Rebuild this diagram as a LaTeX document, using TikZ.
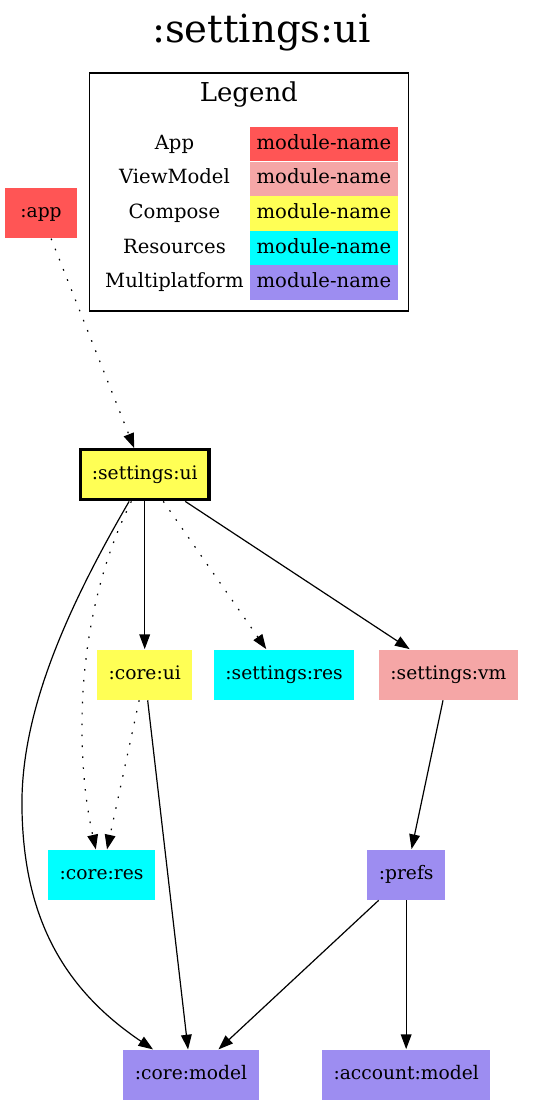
\documentclass[tikz,border=0pt]{standalone}
\usepackage{fontspec}
\setmainfont{DejaVu Serif}
\usetikzlibrary{shapes,arrows.meta}

\definecolor{appcol}{HTML}{FF5555}
\definecolor{vmcol}{HTML}{F5A6A6}
\definecolor{composecol}{HTML}{FFFF55}
\definecolor{rescol}{HTML}{00FFFF}
\definecolor{mppcol}{HTML}{9D8DF1}

\begin{document}
\begin{tikzpicture}[x=0.75pt, y=-0.75pt, line width=0.9pt]
  \tikzstyle{module} = [rectangle, minimum width=54pt, minimum height=37.5pt,
    inner xsep=8.6pt, text height=10pt, text depth=3pt, font=\fontsize{14}{16}\selectfont]
  \tikzstyle{swatch} = [rectangle, minimum width=110.6pt, minimum height=25.9pt,
    inner sep=0pt, text height=10.5pt, text depth=3pt, font=\fontsize{14.7}{16}\selectfont]
  \tikzstyle{kind} = [font=\fontsize{14.7}{16}\selectfont, inner sep=0pt,
    text height=10.5pt, text depth=3pt]
  \tikzstyle{line} = [draw, -{Triangle[length=11pt, width=8pt]}]
  \tikzstyle{dotline} = [line, dash pattern=on 1.2pt off 7pt]

  \useasboundingbox (0,0) rectangle (551,1106);

  % Title and legend
  \node [anchor=base, font=\fontsize{29}{32}\selectfont] (title) at (261.5,43) {:settings:ui};
  \node [draw, rectangle, minimum width=239.5pt, minimum height=178.5pt, inner sep=0pt]
    (legend) at (248.85,192) {};
  \node [anchor=base, font=\fontsize{19.5}{22}\selectfont] (legendtitle) at (248.85,101.5) {Legend};

  \node [swatch, fill=appcol] (swapp) at (323.9,144.2) {module-name};
  \node [swatch, fill=vmcol, below of=swapp, node distance=25.95pt] (swvm) {module-name};
  \node [swatch, fill=composecol, below of=swvm, node distance=25.95pt] (swcompose) {module-name};
  \node [swatch, fill=rescol, below of=swcompose, node distance=25.95pt] (swres) {module-name};
  \node [swatch, fill=mppcol, below of=swres, node distance=25.95pt] (swmpp) {module-name};

  \node [kind, left of=swapp, node distance=112.1pt] (kapp) {App};
  \node [kind, left of=swvm, node distance=112.1pt] (kvm) {ViewModel};
  \node [kind, left of=swcompose, node distance=112.1pt] (kcompose) {Compose};
  \node [kind, left of=swres, node distance=112.1pt] (kres) {Resources};
  \node [kind, left of=swmpp, node distance=112.1pt] (kmpp) {Multiplatform};

  % Place nodes
  \node [module, fill=appcol] (app) at (41,213) {:app};
  \node [module, fill=composecol, draw=black, line width=2.5pt] (setui) at (144.7,474.7) {:settings:ui};
  \node [module, fill=composecol, below of=setui, node distance=150pt] (coreui) {:core:ui};
  \node [module, fill=rescol, right of=coreui, node distance=104.5pt] (setres) {:settings:res};
  \node [module, fill=vmcol, right of=setres, node distance=123.3pt] (setvm) {:settings:vm};
  \node [module, fill=rescol] (coreres) at (101.5,875) {:core:res};
  \node [module, fill=mppcol, below of=setvm, node distance=150pt, xshift=-31.7pt] (prefs) {:prefs};
  \node [module, fill=mppcol] (coremodel) at (191,1075) {:core:model};
  \node [module, fill=mppcol, below of=prefs, node distance=150pt] (accmodel) {:account:model};

  % Draw edges
  \path [dotline] (app) -- (setui);

  \path [line] (setui) .. controls (60,620) and (20,720) .. (22,810)
    .. controls (24,920) and (65,990) .. (coremodel);
  \path [dotline] (setui) .. controls (72,620) and (76,760) .. (coreres);
  \path [line] (setui) -- (coreui);
  \path [dotline] (setui) -- (setres);
  \path [line] (setui) -- (setvm);

  \path [dotline] (coreui) -- (coreres);
  \path [line] (coreui) -- (coremodel);

  \path [line] (setvm) -- (prefs);
  \path [line] (prefs) -- (coremodel);
  \path [line] (prefs) -- (accmodel);

\end{tikzpicture}
\end{document}
